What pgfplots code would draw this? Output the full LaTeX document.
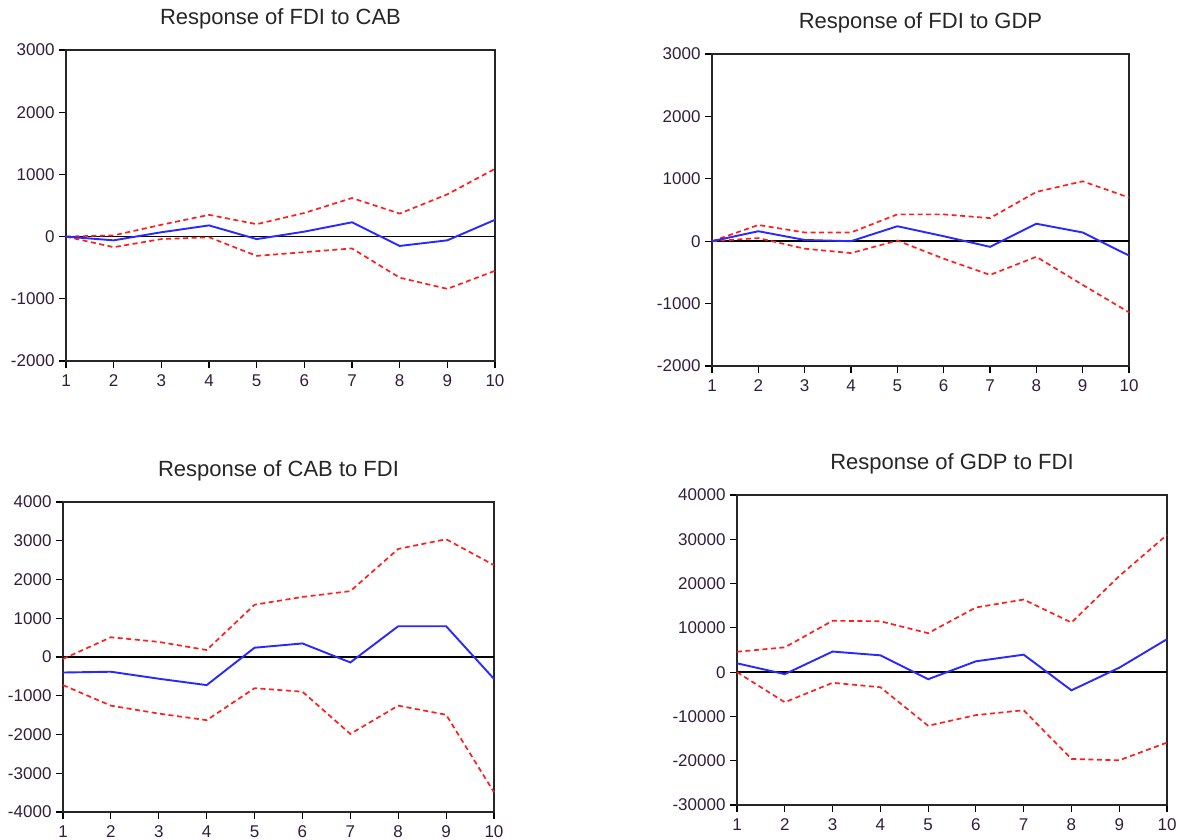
\documentclass[border=0pt]{standalone}
\usepackage{pgfplots}
\pgfplotsset{compat=1.18}
\usepackage{fontspec}
\setmainfont{Liberation Sans}
\definecolor{irfblue}{RGB}{40,40,255}
\definecolor{irfred}{RGB}{255,30,30}
\definecolor{lbl}{RGB}{50,30,60}
\pgfplotsset{
  irf/.style={
    scale only axis,
    anchor=south west,
    xmin=1, xmax=10,
    xtick={1,...,10},
    xticklabels={1,2,3,4,5,6,7,8,9,10},
    scaled y ticks=false,
    tick align=outside,
    xtick pos=bottom, ytick pos=left,
    major tick length=7pt,
    tick style={black, line width=1.1pt},
    axis line style={black!85, line width=1.7pt},
    every tick label/.append style={font=\fontsize{17}{19}\selectfont, text=lbl},
    yticklabel style={xshift=-1pt},
    xticklabel style={yshift=-3pt},
    title style={font=\fontsize{22}{25}\selectfont, text=black!85, at={(0.5,1)}, anchor=center, yshift=25pt},
    clip=false,
  },
  irfmid/.style={irfblue, line width=1.9pt},
  irfband/.style={irfred, line width=1.7pt, dash pattern=on 5pt off 3.5pt},
  irfzero/.style={black, line width=1.7pt},
}
\begin{document}
\begin{tikzpicture}
\path[use as bounding box] (0,0) rectangle (1180pt,-839pt);

% Panel 1
\begin{axis}[irf, at={(66pt,-361pt)}, width=429pt, height=311pt,
  ymin=-2000, ymax=3000, ytick={-2000,-1000,0,1000,2000,3000},
  yticklabels={-2000,-1000,0,1000,2000,3000},
  title={Response of FDI to CAB}]
\addplot[irfzero] coordinates {(1,0) (10,0)};
\addplot[irfband] coordinates {(1,0) (2,20) (3,190) (4,350) (5,200) (6,380) (7,620) (8,370) (9,680) (10,1090)};
\addplot[irfband] coordinates {(1,0) (2,-170) (3,-40) (4,-10) (5,-310) (6,-250) (7,-190) (8,-660) (9,-840) (10,-550)};
\addplot[irfmid] coordinates {(1,0) (2,-60) (3,70) (4,180) (5,-40) (6,80) (7,230) (8,-150) (9,-60) (10,270)};
\end{axis}

% Panel 2
\begin{axis}[irf, at={(712pt,-366pt)}, width=417pt, height=312pt,
  ymin=-2000, ymax=3000, ytick={-2000,-1000,0,1000,2000,3000},
  yticklabels={-2000,-1000,0,1000,2000,3000},
  title={Response of FDI to GDP}]
\addplot[irfzero] coordinates {(1,0) (10,0)};
\addplot[irfband] coordinates {(1,0) (2,260) (3,140) (4,140) (5,430) (6,430) (7,370) (8,790) (9,960) (10,700)};
\addplot[irfband] coordinates {(1,0) (2,50) (3,-120) (4,-190) (5,10) (6,-280) (7,-540) (8,-250) (9,-700) (10,-1140)};
\addplot[irfmid] coordinates {(1,0) (2,160) (3,20) (4,0) (5,240) (6,80) (7,-90) (8,280) (9,140) (10,-230)};
\end{axis}

% Panel 3
\begin{axis}[irf, at={(63pt,-812pt)}, width=431pt, height=310pt,
  ymin=-4000, ymax=4000, ytick={-4000,-3000,-2000,-1000,0,1000,2000,3000,4000},
  yticklabels={-4000,-3000,-2000,-1000,0,1000,2000,3000,4000},
  title={Response of CAB to FDI}]
\addplot[irfzero] coordinates {(1,0) (10,0)};
\addplot[irfband] coordinates {(1,-50) (2,510) (3,390) (4,180) (5,1350) (6,1550) (7,1700) (8,2790) (9,3040) (10,2370)};
\addplot[irfband] coordinates {(1,-725) (2,-1255) (3,-1460) (4,-1630) (5,-805) (6,-895) (7,-1985) (8,-1255) (9,-1490) (10,-3490)};
\addplot[irfmid] coordinates {(1,-400) (2,-380) (3,-560) (4,-725) (5,240) (6,350) (7,-140) (8,795) (9,795) (10,-565)};
\end{axis}

% Panel 4
\begin{axis}[irf, at={(737pt,-805pt)}, width=430pt, height=310pt,
  ymin=-30000, ymax=40000, ytick={-30000,-20000,-10000,0,10000,20000,30000,40000},
  yticklabels={-30000,-20000,-10000,0,10000,20000,30000,40000},
  title={Response of GDP to FDI}]
\addplot[irfzero] coordinates {(1,0) (10,0)};
\addplot[irfband] coordinates {(1,4600) (2,5600) (3,11600) (4,11500) (5,8800) (6,14600) (7,16400) (8,11200) (9,21700) (10,31000)};
\addplot[irfband] coordinates {(1,0) (2,-6800) (3,-2400) (4,-3400) (5,-12100) (6,-9700) (7,-8600) (8,-19600) (9,-19900) (10,-15900)};
\addplot[irfmid] coordinates {(1,2000) (2,-450) (3,4650) (4,3800) (5,-1600) (6,2450) (7,3950) (8,-4100) (9,1000) (10,7450)};
\end{axis}
\end{tikzpicture}
\end{document}
